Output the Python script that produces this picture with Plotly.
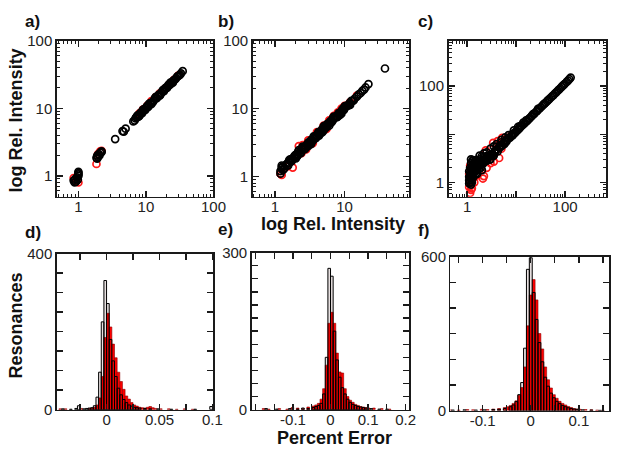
import plotly.graph_objects as go

# ---------------- scatter data (log Rel. Intensity) ----------------
a_black_x = [0.85, 0.88, 0.9, 0.95, 1.0, 1.0, 1.0, 0.98, 0.92, 1.0,
             1.85, 1.9, 1.95, 2.0, 2.1, 2.2, 1.9, 2.05, 2.2,
             3.5, 4.5, 4.7, 5.0,
             6.5, 7.0, 7.5, 8.0, 8.5, 9.0, 9.5, 10.0, 10.5, 11.0, 12.0, 13.0, 14.0, 15.0,
             16.0, 17.0, 18.0, 19.0, 20.0, 21.0, 22.0, 24.0, 26.0, 28.0, 30.0, 32.0, 35.0,
             7.5, 9.0, 11.0, 14.0, 18.0, 23.0, 8.0, 12.0, 16.0, 25.0,
             6.8, 7.2, 7.8, 8.3, 8.8, 9.3, 9.8, 10.3, 10.8, 11.5, 12.5, 13.5, 14.5, 15.5,
             16.5, 17.5, 18.5, 19.5, 20.5, 21.5, 23.0, 25.0, 27.0, 29.0, 31.0, 33.0]
a_black_y = [0.85, 0.8, 0.9, 0.95, 1.0, 1.1, 1.15, 0.88, 0.82, 1.05,
             1.85, 2.0, 1.9, 2.1, 2.2, 2.3, 1.8, 2.0, 2.25,
             3.5, 4.6, 4.5, 5.0,
             6.4, 7.1, 7.4, 8.1, 8.6, 9.0, 9.6, 10.1, 10.4, 11.1, 12.1, 12.9, 14.1, 15.0,
             16.1, 17.0, 18.1, 19.0, 20.2, 21.0, 22.1, 24.0, 26.2, 28.0, 30.1, 31.5, 35.5,
             7.9, 9.5, 11.6, 14.8, 18.8, 24.0, 7.7, 11.5, 15.4, 24.0,
             6.6, 7.4, 7.6, 8.6, 8.5, 9.7, 9.5, 10.7, 10.5, 11.9, 12.2, 14.0, 14.1, 16.0,
             16.1, 18.1, 18.0, 20.1, 20.0, 22.2, 22.6, 25.4, 26.8, 29.5, 30.8, 33.0]
a_red_x = [0.85, 1.0, 0.95, 1.85, 2.2, 2.1, 9.0, 10.5, 12.0, 14.0, 16.0, 19.0, 22.0, 26.0, 30.0, 8.0, 1.95]
a_red_y = [0.93, 0.8, 0.85, 1.5, 2.35, 2.3, 9.6, 11.0, 12.8, 14.7, 16.6, 19.5, 22.5, 26.5, 30.5, 8.4, 2.1]

b_black_x = [1.2, 1.25, 1.3, 1.3, 1.35, 1.5, 1.6, 1.7, 1.8, 1.9, 2.0, 2.1, 2.2, 2.4, 2.5, 2.6,
             2.8, 3.0, 3.2, 3.4, 3.6, 3.8, 4.0, 4.3, 4.6, 5.0, 5.3, 5.6, 6.0, 6.5, 7.0, 7.5,
             8.0, 8.5, 9.0, 9.5, 10.0, 11.0, 12.0, 13.0, 14.0, 15.0, 16.0, 17.0, 18.0, 19.0,
             20.0, 22.0, 38.0,
             1.2, 1.3, 1.6, 2.0, 2.5, 3.0, 3.6, 4.3, 5.0, 6.0, 7.0, 8.5, 10.0, 12.0, 2.2, 3.3,
             4.8, 6.8, 9.0,
             1.25, 1.35, 1.45, 1.55, 1.65, 1.75, 1.95, 2.05, 2.15, 2.3, 2.45, 2.65, 2.9, 3.1,
             3.3, 3.5, 3.7, 3.9, 4.1, 4.4, 4.7, 4.9, 5.2, 5.5, 5.8, 6.2, 6.6, 7.2, 7.8, 8.2,
             8.8, 9.3, 9.8, 10.5, 11.5, 12.5, 13.5, 1.3, 1.5, 1.7, 1.9, 2.1, 2.35, 2.55, 2.75,
             3.05, 3.35, 3.75, 4.2, 4.6, 5.1, 5.6, 6.3, 7.1, 7.9, 9.2, 10.4, 11.8]
b_black_y = [1.2, 1.35, 1.25, 1.4, 1.3, 1.55, 1.6, 1.8, 1.85, 1.9, 2.1, 2.1, 2.2, 2.5, 2.5, 2.7,
             2.8, 3.1, 3.2, 3.5, 3.6, 3.9, 4.0, 4.4, 4.6, 5.1, 5.3, 5.7, 6.0, 6.6, 7.0, 7.6,
             8.0, 8.6, 9.1, 9.5, 10.1, 11.0, 12.1, 13.0, 14.1, 15.0, 16.2, 17.0, 18.3, 19.0,
             20.5, 23.0, 39.0,
             1.1, 1.4, 1.75, 1.85, 2.75, 2.8, 3.9, 4.0, 5.5, 5.6, 7.6, 8.0, 10.8, 11.3, 2.45, 3.0,
             4.5, 7.3, 8.4,
             1.45, 1.3, 1.5, 1.45, 1.75, 1.7, 2.05, 1.95, 2.3, 2.2, 2.6, 2.5, 3.0, 2.95,
             3.45, 3.35, 3.8, 3.7, 4.3, 4.25, 4.9, 4.7, 5.5, 5.3, 6.0, 6.5, 6.4, 7.5, 7.5, 8.6,
             8.5, 9.8, 9.6, 11.0, 11.2, 13.0, 13.2, 1.25, 1.45, 1.65, 2.0, 2.0, 2.2, 2.7, 2.6,
             3.2, 3.2, 3.6, 4.5, 4.4, 4.9, 5.9, 6.1, 7.4, 7.6, 9.4, 10.9, 12.1]
b_red_x = [1.2, 1.25, 1.8, 2.2, 2.5, 2.4, 3.0, 3.5, 4.0, 5.0, 6.0, 7.0, 8.0, 9.0, 10.0, 12.0, 1.5, 2.8, 5.5, 15.0]
b_red_y = [1.1, 1.05, 1.35, 2.8, 2.9, 2.2, 3.4, 3.1, 4.5, 5.6, 6.7, 7.8, 8.8, 10.0, 11.0, 12.5, 1.4, 2.5, 5.0, 15.5]

c_black_x = [1.1, 1.15, 1.2, 1.2, 1.25, 1.3, 1.3, 1.4, 1.5, 1.6, 1.7, 1.8, 2.0, 2.2, 2.4, 2.6,
             2.8, 3.0, 3.3, 3.6, 4.0, 4.5, 5.0, 5.5, 6.0, 7.0, 8.0, 9.0, 10.0, 11.0, 12.0, 14.0,
             16.0, 18.0, 20.0, 23.0, 26.0, 30.0, 34.0, 38.0, 43.0, 48.0, 55.0, 62.0, 70.0, 80.0,
             90.0, 100.0, 115.0, 130.0,
             1.2, 1.3, 1.15, 1.2, 1.25, 1.5, 1.8, 2.0, 2.5, 3.0, 4.0, 5.0, 1.1, 1.4, 1.6, 2.2,
             3.5, 6.5, 8.5, 12.0, 16.0, 22.0, 28.0, 36.0,
             1.1, 1.1, 1.15, 1.15, 1.2, 1.2, 1.25, 1.25, 1.3, 1.35, 1.35, 1.4, 1.45, 1.5, 1.55,
             1.6, 1.65, 1.7, 1.75, 1.85, 1.9, 2.1, 2.3, 2.5, 2.7, 2.9, 3.2, 3.4, 3.8, 4.2, 4.7,
             5.2, 5.8, 6.3, 7.5, 8.5, 9.5, 10.5, 11.5, 13.0, 15.0, 17.0, 19.0, 21.0, 24.0, 27.0,
             32.0, 40.0, 45.0, 52.0, 58.0, 66.0, 75.0, 85.0, 95.0, 108.0, 122.0,
             2.5, 3.0, 2.0, 1.5, 4.0, 5.0, 6.0, 1.8, 2.2, 3.5, 1.3, 1.2, 7.0, 9.0, 11.0, 14.0]
c_black_y = [1.1, 1.3, 1.5, 1.2, 1.7, 1.4, 1.9, 1.6, 1.8, 2.0, 2.1, 2.3, 2.5, 2.7, 2.9, 3.1,
             3.4, 3.6, 3.9, 4.3, 4.8, 5.4, 6.0, 6.5, 7.1, 8.2, 9.3, 10.4, 11.5, 12.6, 13.7, 16.0,
             18.3, 20.5, 22.8, 26.2, 29.6, 34.0, 38.5, 43.0, 48.5, 54.0, 62.0, 70.0, 79.0, 90.0,
             102.0, 113.0, 130.0, 150.0,
             2.5, 2.8, 2.0, 0.9, 1.0, 2.2, 3.0, 1.8, 3.5, 3.0, 5.5, 6.8, 0.95, 2.6, 1.5, 3.4,
             3.6, 7.6, 10.2, 14.8, 19.5, 26.0, 33.5, 41.0,
             1.3, 1.7, 1.0, 1.6, 1.9, 1.3, 2.2, 1.1, 1.6, 2.4, 1.3, 2.0, 2.8, 1.5, 2.5,
             1.8, 2.7, 2.4, 1.9, 2.8, 2.0, 2.4, 3.0, 2.8, 3.3, 3.0, 3.7, 3.6, 4.5, 4.4, 5.3,
             5.8, 6.3, 7.0, 8.5, 9.4, 10.6, 11.8, 13.0, 14.8, 17.0, 19.2, 21.6, 24.0, 27.4, 30.6,
             36.2, 45.0, 51.0, 58.5, 65.0, 74.0, 84.0, 96.0, 107.0, 122.0, 139.0,
             4.2, 5.0, 3.5, 2.9, 6.2, 7.6, 8.6, 3.6, 4.0, 5.6, 2.9, 3.0, 9.6, 12.0, 14.2, 17.5]
c_red_x = [1.15, 1.2, 1.1, 1.2, 1.25, 1.3, 1.1, 1.15, 1.4, 1.6, 2.1, 2.2, 2.5, 3.0, 3.5, 4.0, 5.0, 6.0, 8.0, 4.5,
           3.4, 4.2, 5.2, 2.4]
c_red_y = [0.6, 0.7, 0.8, 1.0, 0.75, 1.2, 1.5, 2.2, 1.0, 1.4, 1.2, 1.35, 2.0, 2.5, 2.7, 4.8, 5.0, 7.5, 9.5, 3.2,
           6.6, 7.2, 8.4, 4.6]

# ---------------- histogram data (Percent Error) ----------------
d_black_x = [-0.04125, -0.03375, -0.02875, -0.02625, -0.02125, -0.01875, -0.01625, -0.01375, -0.01125,
             -0.00875, -0.00625, -0.00375, -0.00125, 0.00125, 0.00375, 0.00625, 0.00875, 0.01125,
             0.01375, 0.01625, 0.01875, 0.02125, 0.02375, 0.02625, 0.02875, 0.03125, 0.03625,
             0.04125, 0.04875, 0.06125, 0.08375, 0.09875]
d_black_y = [2, 1, 3, 10, 2, 3, 4, 5, 10, 32, 96, 225, 331, 272, 180, 125, 85, 55, 38, 26, 18, 12, 9,
             6, 5, 4, 3, 2, 2, 1, 1, 8]
d_red_x = [-0.04375, -0.03875, -0.02375, -0.01625, -0.01375, -0.01125, -0.00875, -0.00625, -0.00375,
           -0.00125, 0.00125, 0.00375, 0.00625, 0.00875, 0.01125, 0.01375, 0.01625, 0.01875, 0.02125,
           0.02375, 0.02625, 0.02875, 0.03125, 0.03375, 0.03625, 0.03875, 0.04125, 0.04375, 0.04625,
           0.05125, 0.05875, 0.06625, 0.07375, 0.08125]
d_red_y = [2, 2, 3, 3, 4, 6, 12, 30, 85, 185, 247, 212, 168, 133, 96, 72, 52, 35, 27, 18, 12, 9, 6, 5,
           4, 6, 8, 5, 3, 2, 2, 1, 2, 1]

e_black_x = [-0.1715, -0.1435, -0.1085, -0.0875, -0.0735, -0.0595, -0.0455, -0.0385, -0.0315, -0.0245,
             -0.0175, -0.0105, -0.0035, 0.0035, 0.0105, 0.0175, 0.0245, 0.0315, 0.0385, 0.0455,
             0.0525, 0.0595, 0.0665, 0.0735, 0.0805, 0.0875, 0.0945, 0.1085, 0.1295, 0.1505]
e_black_y = [2, 1, 2, 1, 3, 2, 4, 6, 8, 12, 30, 100, 270, 255, 150, 95, 62, 42, 30, 20, 14, 10, 8, 6,
             5, 4, 3, 2, 1, 1]
e_red_x = [-0.1785, -0.1645, -0.1365, -0.1155, -0.1015, -0.0875, -0.0735, -0.0595, -0.0455, -0.0385,
           -0.0315, -0.0245, -0.0175, -0.0105, -0.0035, 0.0035, 0.0105, 0.0175, 0.0245, 0.0315,
           0.0385, 0.0455, 0.0525, 0.0595, 0.0665, 0.0735, 0.0805, 0.0875, 0.0945, 0.1015, 0.1155,
           0.1365, 0.1575]
e_red_y = [2, 1, 2, 1, 4, 3, 2, 5, 7, 9, 12, 20, 40, 85, 165, 186, 165, 108, 72, 70, 40, 25, 18, 14,
           10, 8, 6, 5, 4, 3, 3, 2, 1]

f_black_x = [-0.162, -0.138, -0.114, -0.096, -0.078, -0.066, -0.054, -0.042, -0.036, -0.030, -0.024,
             -0.018, -0.012, -0.006, 0.0, 0.006, 0.012, 0.018, 0.024, 0.030, 0.036, 0.042, 0.048,
             0.054, 0.060, 0.066, 0.072, 0.078, 0.084, 0.090, 0.096, 0.108, 0.126, 0.144]
f_black_y = [2, 3, 2, 3, 4, 5, 8, 15, 22, 35, 62, 109, 243, 550, 595, 460, 355, 265, 190, 130, 95, 68,
             50, 36, 27, 20, 15, 11, 8, 6, 5, 3, 2, 1]
f_red_x = [-0.168, -0.150, -0.132, -0.120, -0.102, -0.090, -0.078, -0.066, -0.054, -0.048, -0.042,
           -0.036, -0.030, -0.024, -0.018, -0.012, -0.006, 0.0, 0.006, 0.012, 0.018, 0.024, 0.030,
           0.036, 0.042, 0.048, 0.054, 0.060, 0.066, 0.072, 0.078, 0.084, 0.090, 0.096, 0.102,
           0.114, 0.126, 0.138, 0.150]
f_red_y = [3, 2, 4, 3, 5, 4, 6, 8, 12, 15, 20, 28, 38, 60, 90, 170, 330, 450, 510, 431, 300, 240, 170,
           120, 88, 62, 48, 36, 28, 22, 16, 12, 8, 6, 5, 4, 3, 2, 1]

bin_widths = {"d": 0.0025, "e": 0.007, "f": 0.006}

W, H = 629, 460
FONT = "Liberation Sans, Arial, sans-serif"
AX = "#1a1a1a"


def dom_x(x0, x1):
    return [x0 / W, x1 / W]


def dom_y(top, bottom):
    return [1 - bottom / H, 1 - top / H]


fig = go.Figure()

scatter_sets = [
    ("x", "y", a_red_x, a_red_y, a_black_x, a_black_y),
    ("x2", "y2", b_red_x, b_red_y, b_black_x, b_black_y),
    ("x3", "y3", c_red_x, c_red_y, c_black_x, c_black_y),
]
for xa, ya, rx, ry, bx, by in scatter_sets:
    fig.add_trace(go.Scatter(x=rx, y=ry, mode="markers", xaxis=xa, yaxis=ya, showlegend=False,
                             hoverinfo="skip",
                             marker=dict(symbol="circle-open", size=7, color="#ff1a1a",
                                         line=dict(width=1.7))))
    fig.add_trace(go.Scatter(x=bx, y=by, mode="markers", xaxis=xa, yaxis=ya, showlegend=False,
                             hoverinfo="skip",
                             marker=dict(symbol="circle-open", size=7, color="black",
                                         line=dict(width=1.7))))

hist_sets = [
    ("x4", "y4", d_red_x, d_red_y, d_black_x, d_black_y, bin_widths["d"]),
    ("x5", "y5", e_red_x, e_red_y, e_black_x, e_black_y, bin_widths["e"]),
    ("x6", "y6", f_red_x, f_red_y, f_black_x, f_black_y, bin_widths["f"]),
]
for xa, ya, rx, ry, bx, by, w in hist_sets:
    fig.add_trace(go.Bar(x=rx, y=ry, width=w, xaxis=xa, yaxis=ya, showlegend=False, hoverinfo="skip",
                         marker=dict(color="#ff0000", line=dict(color="#8b0000", width=0.6))))
    fig.add_trace(go.Bar(x=bx, y=by, width=w, xaxis=xa, yaxis=ya, showlegend=False, hoverinfo="skip",
                         marker=dict(color="rgba(60,0,0,0.12)", line=dict(color="black", width=1))))

base = dict(showline=True, linecolor=AX, linewidth=1.5, mirror="ticks", ticks="inside",
            ticklen=6, tickwidth=1.3, tickcolor=AX, showgrid=False, zeroline=False,
            tickfont=dict(family=FONT, size=15, color="#222"), fixedrange=True)
xbase = dict(base, ticklabelstandoff=-4)
minor_log = dict(ticks="inside", ticklen=3, tickwidth=1, tickcolor=AX, dtick="D1", showgrid=False)

layout = dict(width=W, height=H, margin=dict(l=0, r=0, t=0, b=0), paper_bgcolor="white",
              plot_bgcolor="white", barmode="overlay", bargap=0, showlegend=False)

# top row (log-log)
layout["xaxis"] = dict(xbase, type="log", domain=dom_x(58, 218), range=[-0.32, 2.0], anchor="y",
                       tickvals=[1, 10, 100], ticktext=["1", "10", "100"], minor=minor_log)
layout["yaxis"] = dict(base, type="log", domain=dom_y(33, 195), range=[-0.31, 2.0], anchor="x",
                       tickvals=[1, 10, 100], ticktext=["1", "10", "100"], minor=minor_log)
layout["xaxis2"] = dict(xbase, type="log", domain=dom_x(258, 418), range=[-0.32, 1.93], anchor="y2",
                        tickvals=[1, 10, 100], ticktext=["1", "10", "100"], minor=minor_log)
layout["yaxis2"] = dict(base, type="log", domain=dom_y(33, 195), range=[-0.3, 2.0], anchor="x2",
                        tickvals=[1, 10, 100], ticktext=["1", "10", "100"], minor=minor_log)
layout["xaxis3"] = dict(xbase, type="log", domain=dom_x(458, 619), range=[-0.38, 2.84], anchor="y3",
                        tickvals=[1, 10, 100], ticktext=["1", "", "100"], minor=minor_log)
layout["yaxis3"] = dict(base, type="log", domain=dom_y(33, 195), range=[-0.3, 2.94], anchor="x3",
                        tickvals=[1, 10, 100], ticktext=["1", "", "100"], minor=minor_log)

# bottom row (histograms)
layout["xaxis4"] = dict(xbase, domain=dom_x(58, 218), range=[-0.047, 0.101], anchor="y4",
                        tickvals=[-0.025, 0, 0.025, 0.05, 0.075, 0.1],
                        ticktext=["", "0", "", "0.05", "", "0.1"])
layout["yaxis4"] = dict(base, domain=dom_y(254, 416), range=[0, 400], anchor="x4",
                        tickvals=[0, 50, 100, 150, 200, 250, 300, 350, 400],
                        ticktext=["0", "", "", "", "", "", "", "", "400"])
layout["xaxis5"] = dict(xbase, domain=dom_x(257, 418), range=[-0.21, 0.21], anchor="y5",
                        tickvals=[-0.2, -0.15, -0.1, -0.05, 0, 0.05, 0.1, 0.15, 0.2],
                        ticktext=["", "", "-0.1", "", "0", "", "0.1", "", "0.2"])
layout["yaxis5"] = dict(base, domain=dom_y(253, 416), range=[0, 300], anchor="x5",
                        tickvals=list(range(0, 301, 25)),
                        ticktext=["0"] + [""] * 11 + ["300"])
layout["xaxis6"] = dict(xbase, domain=dom_x(460, 622), range=[-0.167, 0.163], anchor="y6",
                        tickvals=[-0.15, -0.1, -0.05, 0, 0.05, 0.1, 0.15],
                        ticktext=["", "-0.1", "", "0", "", "0.1", ""])
layout["yaxis6"] = dict(base, domain=dom_y(257, 417), range=[0, 600], anchor="x6",
                        tickvals=[0, 100, 200, 300, 400, 500, 600],
                        ticktext=["0", "", "", "", "", "", "600"])

ann = []
title_font = dict(family=FONT, size=18, color="#111")
ann.append(dict(text="<b>log Rel. Intensity</b>", x=16 / W, y=1 - 116 / H, xref="paper", yref="paper",
                textangle=-90, showarrow=False, font=title_font, xanchor="center", yanchor="middle"))
ann.append(dict(text="<b>log Rel. Intensity</b>", x=340 / W, y=1 - 223 / H, xref="paper", yref="paper",
                showarrow=False, font=title_font, xanchor="center", yanchor="middle"))
ann.append(dict(text="<b>Resonances</b>", x=16 / W, y=1 - 329 / H, xref="paper", yref="paper",
                textangle=-90, showarrow=False, font=title_font, xanchor="center", yanchor="middle"))
ann.append(dict(text="<b>Percent Error</b>", x=342 / W, y=1 - 445 / H, xref="paper", yref="paper",
                showarrow=False, font=title_font, xanchor="center", yanchor="middle"))

panel_font = dict(family="Liberation Sans, Arial, sans-serif", size=17, color="#111")
for lab, px, py in [("a)", 25, 13), ("b)", 222, 13), ("c)", 426, 13),
                    ("d)", 25, 232), ("e)", 222, 229), ("f)", 426, 230)]:
    ann.append(dict(text="<b>" + lab + "</b>", x=px / W, y=1 - py / H, xref="paper", yref="paper",
                    showarrow=False, font=panel_font, xanchor="left", yanchor="middle", borderpad=0))
layout["annotations"] = ann

fig.update_layout(**layout)
fig.write_html("out.html", config={"displayModeBar": False, "staticPlot": True},
               post_script="document.body.style.margin='0';document.body.style.padding='0';"
                           "document.body.style.overflow='hidden';")
